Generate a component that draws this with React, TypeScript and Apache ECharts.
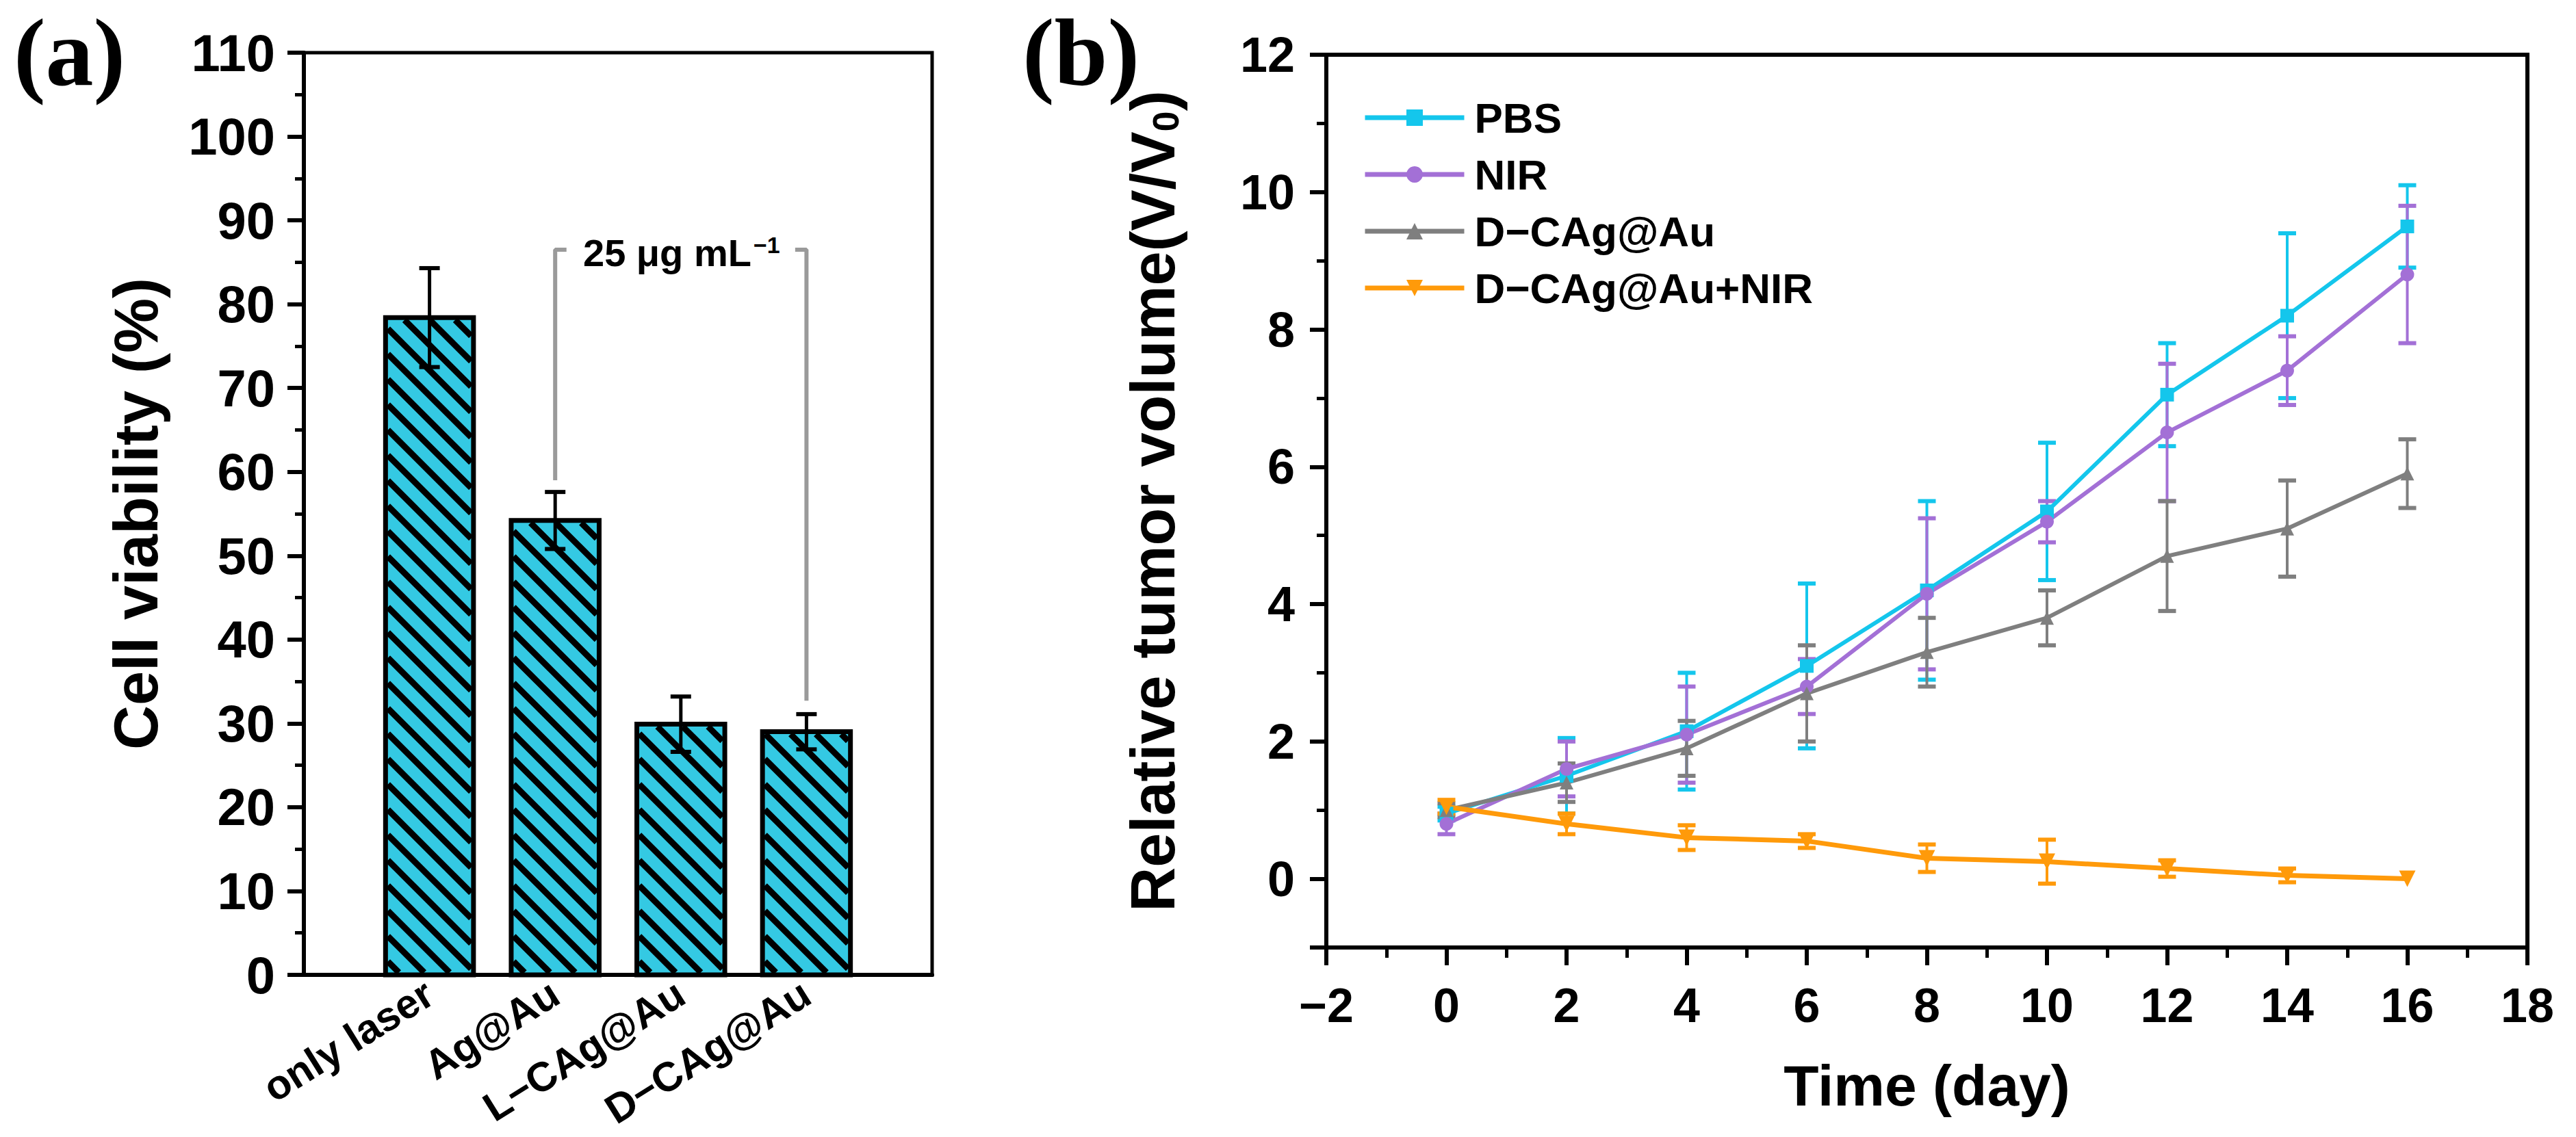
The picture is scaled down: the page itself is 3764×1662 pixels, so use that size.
import React, { useEffect, useRef } from 'react';
import * as echarts from 'echarts';

// ---------- Panel (a): cell viability ----------
const viabilityCategories = ['only laser', 'Ag@Au', 'L−CAg@Au', 'D−CAg@Au'];
const viabilityPositions = [1, 2, 3, 4];
const viabilityMeans = [78.4, 54.2, 29.9, 29.0];
const viabilityErrors = [5.9, 3.4, 3.3, 2.1];

const bracketTop = 86.5;
const bracketLeftX = 2;
const bracketLeftBottom = 59.0;
const bracketRightX = 4;
const bracketRightBottom = 32.7;
const bracketHook = 0.09;

// ---------- Panel (b): relative tumor volume ----------
const days = [0, 2, 4, 6, 8, 10, 12, 14, 16];
const pbsMean = [0.95, 1.5, 2.15, 3.1, 4.2, 5.35, 7.05, 8.2, 9.5];
const pbsErr = [0.1, 0.55, 0.85, 1.2, 1.3, 1.0, 0.75, 1.2, 0.6];
const nirMean = [0.8, 1.6, 2.1, 2.8, 4.15, 5.2, 6.5, 7.4, 8.8];
const nirErr = [0.15, 0.4, 0.7, 0.4, 1.1, 0.3, 1.0, 0.5, 1.0];
const dcagMean = [1.0, 1.4, 1.9, 2.7, 3.3, 3.8, 4.7, 5.1, 5.9];
const dcagErr = [0.1, 0.28, 0.4, 0.7, 0.5, 0.4, 0.8, 0.7, 0.5];
const dcagNirMean = [1.05, 0.8, 0.6, 0.55, 0.3, 0.25, 0.15, 0.05, 0.0];
const dcagNirErr = [0.1, 0.15, 0.18, 0.1, 0.2, 0.32, 0.12, 0.1, 0.0];

const seriesNames = ['PBS', 'NIR', 'D−CAg@Au', 'D−CAg@Au+NIR'];
const seriesColors = ['#14c6ec', '#a370d6', '#7f7f7f', '#ff9a0a'];
const seriesSymbols = ['rect', 'circle', 'triangle', 'triangle'];
const seriesRotations = [0, 0, 0, 180];

const SANS = '"Liberation Sans", Arial, Helvetica, sans-serif';
const SERIF = '"Liberation Serif", "Times New Roman", serif';

function renderHatchedBar(params: any, api: any) {
  const xv = api.value(0);
  const yv = api.value(1);
  const top = api.coord([xv, yv]);
  const base = api.coord([xv, 0]);
  const w = api.size([1, 0])[0] * 0.7;
  const x0 = top[0] - w / 2;
  const x1 = top[0] + w / 2;
  const y0 = top[1];
  const y1 = base[1];
  const children: any[] = [
    { type: 'rect', shape: { x: x0, y: y0, width: w, height: y1 - y0 }, style: { fill: '#34c9e3' } },
  ];
  const ix0 = x0 + 3.5, ix1 = x1 - 3.5, iy0 = y0 + 3.5, iy1 = y1 - 3.5;
  const step = 37;
  const cMin = iy0 - ix1;
  const cMax = iy1 - ix0;
  for (let c = cMax - 16; c > cMin; c -= step) {
    const xa = Math.max(ix0, iy0 - c);
    const xb = Math.min(ix1, iy1 - c);
    if (xb > xa) {
      children.push({
        type: 'line',
        shape: { x1: xa, y1: xa + c, x2: xb, y2: xb + c },
        style: { stroke: '#000', lineWidth: 9 },
      });
    }
  }
  children.push({
    type: 'rect',
    shape: { x: x0, y: y0, width: w, height: y1 - y0 },
    style: { fill: 'none', stroke: '#000', lineWidth: 7 },
  });
  return { type: 'group', children };
}

function makeErrorRender(color: string, capHalf: number, lw: number, capLw: number) {
  return (params: any, api: any) => {
    const xv = api.value(0);
    const lo = api.value(1);
    const hi = api.value(2);
    if (hi - lo <= 0) return { type: 'group', children: [] };
    const p1 = api.coord([xv, lo]);
    const p2 = api.coord([xv, hi]);
    return {
      type: 'group',
      children: [
        { type: 'line', shape: { x1: p1[0], y1: p1[1], x2: p2[0], y2: p2[1] }, style: { stroke: color, lineWidth: lw } },
        { type: 'line', shape: { x1: p1[0] - capHalf, y1: p1[1], x2: p1[0] + capHalf, y2: p1[1] }, style: { stroke: color, lineWidth: capLw } },
        { type: 'line', shape: { x1: p2[0] - capHalf, y1: p2[1], x2: p2[0] + capHalf, y2: p2[1] }, style: { stroke: color, lineWidth: capLw } },
      ],
    };
  };
}

export default function App() {
  const ref = useRef<HTMLDivElement>(null);

  useEffect(() => {
    if (!ref.current) return;
    const chart = echarts.init(ref.current, undefined, { renderer: 'svg' });

    const barData = viabilityPositions.map((p, i) => [p, viabilityMeans[i]]);
    const barErrData = viabilityPositions.map((p, i) => [p, viabilityMeans[i] - viabilityErrors[i], viabilityMeans[i] + viabilityErrors[i]]);

    const means = [pbsMean, nirMean, dcagMean, dcagNirMean];
    const errs = [pbsErr, nirErr, dcagErr, dcagNirErr];

    const lineSeries: any[] = [];
    const errSeries: any[] = [];
    means.forEach((m, si) => {
      errSeries.push({
        type: 'custom',
        xAxisIndex: 1,
        yAxisIndex: 1,
        renderItem: makeErrorRender(seriesColors[si], 13, 4, 6),
        data: days.map((d, i) => [d, m[i] - errs[si][i], m[i] + errs[si][i]]),
        z: 3,
        silent: true,
      });
      lineSeries.push({
        type: 'line',
        name: seriesNames[si],
        xAxisIndex: 1,
        yAxisIndex: 1,
        data: days.map((d, i) => [d, m[i]]),
        symbol: seriesSymbols[si],
        symbolRotate: seriesRotations[si],
        symbolSize: si === 3 ? 24 : 20,
        showAllSymbol: true,
        lineStyle: { color: seriesColors[si], width: si === 3 ? 7 : 6 },
        itemStyle: { color: seriesColors[si] },
        z: 4,
      });
    });

    const axisLineStyle = { color: '#000', width: 6 };

    const option: any = {
      animation: false,
      backgroundColor: '#fff',
      grid: [
        { left: 444, top: 77, width: 918, height: 1348, show: true, borderColor: '#000', borderWidth: 5, backgroundColor: 'transparent' },
        { left: 1938, top: 80, width: 1755, height: 1305, show: true, borderColor: '#000', borderWidth: 6, backgroundColor: 'transparent' },
      ],
      legend: {
        data: seriesNames,
        orient: 'vertical',
        left: 1986,
        top: 136,
        itemWidth: 145,
        itemHeight: 30,
        itemGap: 21,
        lineStyle: { width: 7 },
        textStyle: { fontSize: 62, fontWeight: 'bold', fontFamily: SANS, color: '#000', lineHeight: 62, padding: [0, 0, 0, 10] },
      },
      xAxis: [
        {
          gridIndex: 0,
          type: 'value',
          min: 0,
          max: 5,
          interval: 1,
          axisLine: { onZero: false, lineStyle: axisLineStyle },
          axisTick: { show: false },
          splitLine: { show: false },
          axisLabel: {
            rotate: 32,
            margin: 22,
            fontSize: 60,
            fontWeight: 'bold',
            fontFamily: SANS,
            color: '#000',
            formatter: (v: number) => {
              const idx = viabilityPositions.indexOf(v);
              return idx >= 0 ? viabilityCategories[idx] : '';
            },
          },
        },
        {
          gridIndex: 1,
          type: 'value',
          min: -2,
          max: 18,
          interval: 2,
          name: 'Time (day)',
          nameLocation: 'middle',
          nameGap: 160,
          nameTextStyle: { fontSize: 84, fontWeight: 'bold', fontFamily: SANS, color: '#000' },
          axisLine: { onZero: false, lineStyle: axisLineStyle },
          axisTick: { length: 26, lineStyle: { width: 6, color: '#000' } },
          minorTick: { show: true, splitNumber: 2, length: 15, lineStyle: { width: 5, color: '#000' } },
          splitLine: { show: false },
          minorSplitLine: { show: false },
          axisLabel: {
            margin: 50,
            fontSize: 70,
            fontWeight: 'bold',
            fontFamily: SANS,
            color: '#000',
            formatter: (v: number) => (v < 0 ? '−' + Math.abs(v) : String(v)),
          },
        },
      ],
      yAxis: [
        {
          gridIndex: 0,
          type: 'value',
          min: 0,
          max: 110,
          interval: 10,
          name: 'Cell viability (%)',
          nameLocation: 'middle',
          nameGap: 200,
          nameTextStyle: { fontSize: 90, fontWeight: 'bold', fontFamily: SANS, color: '#000' },
          axisLine: { show: true, onZero: false, lineStyle: axisLineStyle },
          axisTick: { show: true, length: 24, lineStyle: { width: 6, color: '#000' } },
          minorTick: { show: true, splitNumber: 2, length: 13, lineStyle: { width: 5, color: '#000' } },
          splitLine: { show: false },
          minorSplitLine: { show: false },
          axisLabel: { margin: 42, fontSize: 76, fontWeight: 'bold', fontFamily: SANS, color: '#000' },
        },
        {
          gridIndex: 1,
          type: 'value',
          min: -1,
          max: 12,
          splitNumber: 7,
          name: '{t|Relative tumor volume(V/V}{s|0}{t|)}',
          nameLocation: 'middle',
          nameGap: 208,
          nameTextStyle: {
            fontFamily: SANS,
            color: '#000',
            rich: {
              t: { fontSize: 90, fontWeight: 'bold', fontFamily: SANS, color: '#000' },
              s: { fontSize: 54, fontWeight: 'bold', fontFamily: SANS, color: '#000', verticalAlign: 'bottom' },
            },
          },
          axisLine: { show: true, onZero: false, lineStyle: axisLineStyle },
          axisTick: { show: true, length: 24, lineStyle: { width: 6, color: '#000' } },
          splitLine: { show: false },
          axisLabel: {
            margin: 46,
            fontSize: 72,
            fontWeight: 'bold',
            fontFamily: SANS,
            color: '#000',
            formatter: (v: number) => (v < 0 ? '' : String(v)),
          },
        },
        {
          gridIndex: 1,
          type: 'value',
          position: 'left',
          min: -1,
          max: 12,
          interval: 2,
          axisLine: { show: false, onZero: false },
          axisTick: { show: true, length: 14, lineStyle: { width: 5, color: '#000' } },
          axisLabel: { show: false },
          splitLine: { show: false },
        },
      ],
      graphic: [
        { type: 'text', x: 20, y: 6, style: { text: '(a)', fontFamily: SERIF, fontWeight: 'bold', fontSize: 140, fill: '#000', verticalAlign: 'top' } },
        { type: 'text', x: 1494, y: 6, style: { text: '(b)', fontFamily: SERIF, fontWeight: 'bold', fontSize: 140, fill: '#000', verticalAlign: 'top' } },
        { type: 'text', x: 852, y: 369, style: { text: '25 μg mL', fontFamily: SANS, fontWeight: 'bold', fontSize: 56, fill: '#000', verticalAlign: 'middle' } },
        { type: 'text', x: 1101, y: 358, style: { text: '−1', fontFamily: SANS, fontWeight: 'bold', fontSize: 34, fill: '#000', verticalAlign: 'middle' } },
      ],
      series: [
        {
          type: 'custom',
          xAxisIndex: 0,
          yAxisIndex: 0,
          renderItem: renderHatchedBar,
          data: barData,
          z: 2,
          silent: true,
        },
        {
          type: 'custom',
          xAxisIndex: 0,
          yAxisIndex: 0,
          renderItem: makeErrorRender('#000', 15, 5, 6),
          data: barErrData,
          z: 3,
          silent: true,
        },
        {
          type: 'line',
          xAxisIndex: 0,
          yAxisIndex: 0,
          data: [[bracketLeftX, bracketLeftBottom], [bracketLeftX, bracketTop], [bracketLeftX + bracketHook, bracketTop]],
          symbol: 'none',
          lineStyle: { color: '#9a9a9a', width: 6 },
          z: 3,
          silent: true,
        },
        {
          type: 'line',
          xAxisIndex: 0,
          yAxisIndex: 0,
          data: [[bracketRightX - bracketHook, bracketTop], [bracketRightX, bracketTop], [bracketRightX, bracketRightBottom]],
          symbol: 'none',
          lineStyle: { color: '#9a9a9a', width: 6 },
          z: 3,
          silent: true,
        },
        ...errSeries,
        ...lineSeries,
      ],
    };

    chart.setOption(option);
    return () => chart.dispose();
  }, []);

  return <div ref={ref} style={{ position: 'fixed', left: 0, top: 0, width: 3764, height: 1662, background: '#fff' }} />;
}
